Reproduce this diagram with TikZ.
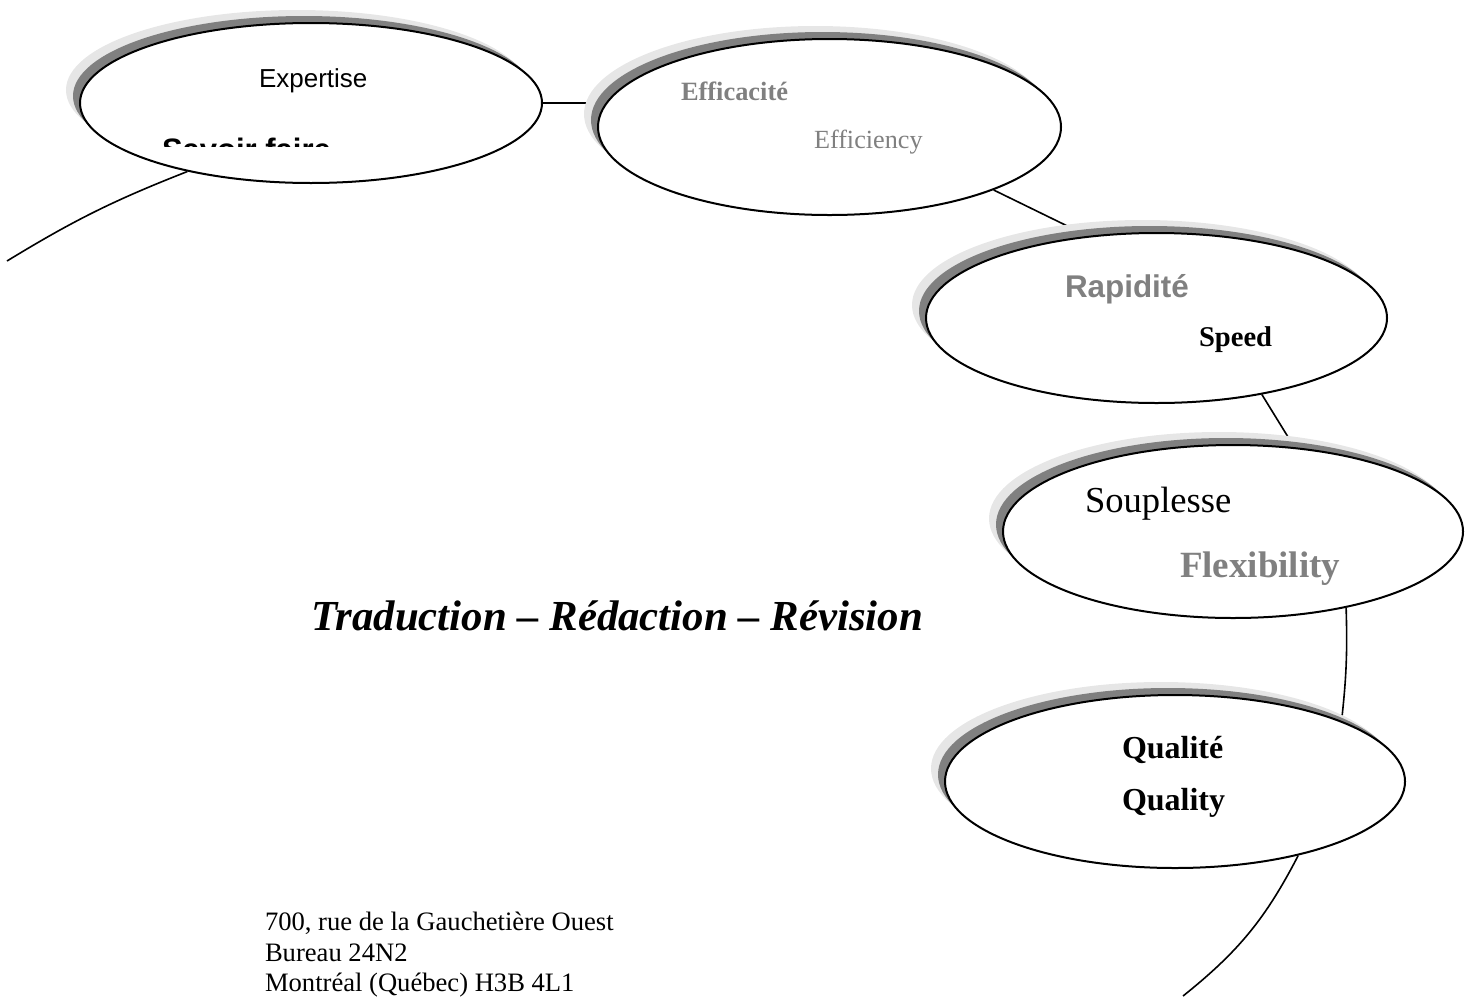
\documentclass[tikz,border=0pt]{standalone}
\usepackage{fontspec}
\setmainfont{Liberation Serif}[Ligatures=CommonOff]
\newfontfamily\arial{Liberation Sans}
\usetikzlibrary{shapes.geometric,shadows,backgrounds}
\definecolor{shlight}{HTML}{E6E6E6}
\definecolor{shdark}{HTML}{808080}
\definecolor{txtgray}{HTML}{808080}
\begin{document}
\begin{tikzpicture}[x=0.5pt,y=0.5pt,
  bub/.style={ellipse, draw=black, line width=1pt, fill=white, inner sep=0pt,
    general shadow={fill=shlight, shadow xshift=-7pt, shadow yshift=6.5pt},
    general shadow={fill=shdark, shadow xshift=-3.5pt, shadow yshift=3.5pt}},
  conn/.style={line width=0.8pt},
  lbl/.style={anchor=base west, inner sep=0pt, outer sep=0pt}]
\useasboundingbox (0,0) rectangle (1471,-996);

% bubbles
\node[bub, minimum width=231pt, minimum height=80pt] (e1) at (311,-103) {};
\node[bub, minimum width=231.5pt, minimum height=88pt] (e2) at (829.5,-127) {};
\node[bub, minimum width=230.5pt, minimum height=85pt] (e3) at (1156.5,-318) {};
\node[bub, minimum width=230pt, minimum height=86.5pt] (e4) at (1233,-531.5) {};
\node[bub, minimum width=230pt, minimum height=86.5pt] (e5) at (1175,-781.5) {};

\coordinate (p1) at (7,-261);
\coordinate (p5) at (1183,-996);

% connectors
\begin{scope}[on background layer]
\draw[conn] (e1.east) -- (e1.east -| e2.center);
\draw[conn] (e2.-21.4) -- (e3.130);
\draw[conn] (e3.-36.3) -- (e4.54);
\draw[conn] (e4.-34) to[bend left=4] (e5.20);
\draw[conn] (e1.-151) to[bend right=5] (p1);
\draw[conn] (e5.-31) to[bend left=12] (p5);
\end{scope}

% labels
\node[lbl, font=\arial\fontsize{13}{15}\selectfont] (t1) at (259,-87) {Expertise};
\begin{scope}
\clip (100,-100) rectangle (400,-146);
\node[lbl, font=\arial\bfseries\fontsize{15.5}{18}\selectfont] (t2) at (162,-160) {Savoir faire};
\end{scope}
\node[lbl, text=txtgray, font=\bfseries\fontsize{13.2}{15}\selectfont] (t3) at (681,-100) {Efficacité};
\node[lbl, text=txtgray, font=\fontsize{13.1}{15}\selectfont] (t4) at (814,-148) {Efficiency};
\node[lbl, text=txtgray, font=\arial\bfseries\fontsize{15.7}{18}\selectfont] (t5) at (1065,-297) {Rapidité};
\node[lbl, font=\bfseries\fontsize{14.3}{17}\selectfont] (t6) at (1199,-346) {Speed};
\node[lbl, font=\fontsize{18.3}{21}\selectfont] (t7) at (1085,-512) {Souplesse};
\node[lbl, text=txtgray, font=\bfseries\fontsize{18.5}{21}\selectfont] (t8) at (1180,-577) {Flexibility};
\node[lbl, font=\bfseries\itshape\fontsize{21.4}{24}\selectfont] (t9) at (311,-630) {Traduction – Rédaction – Révision};
\node[lbl, font=\bfseries\fontsize{16}{19}\selectfont] (t10) at (1122,-758) {Qualité};
\node[lbl, font=\bfseries\fontsize{16}{19}\selectfont] (t11) at (1122,-810) {Quality};

% address
\node[lbl, font=\fontsize{13.3}{15}\selectfont] (a1) at (265,-930) {700, rue de la Gauchetière Ouest};
\node[lbl, font=\fontsize{13.3}{15}\selectfont] (a2) at (265,-961) {Bureau 24N2};
\node[lbl, font=\fontsize{13.3}{15}\selectfont] (a3) at (265,-991) {Montréal (Québec) H3B 4L1};
\end{tikzpicture}
\end{document}
